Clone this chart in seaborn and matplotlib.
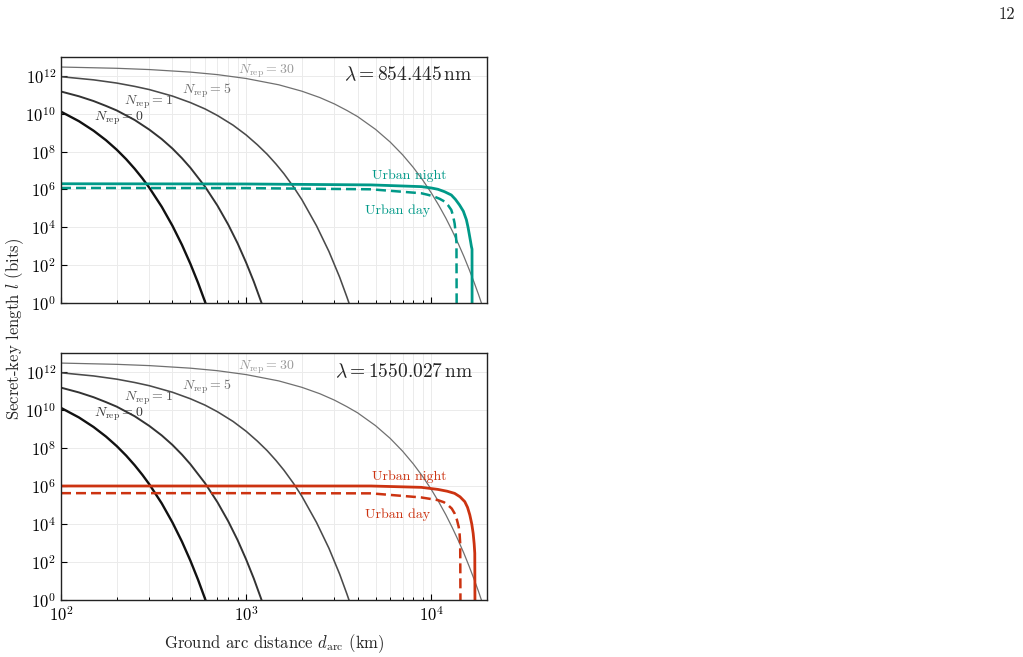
import numpy as np
import pandas as pd
import matplotlib
matplotlib.use('Agg')
import matplotlib.pyplot as plt
import matplotlib.ticker as mticker
import seaborn as sns

# ---- data ----
# repeater chains (same in both panels), distance in km, secret-key length in bits
d_rep0 = [100, 125, 150, 175, 200, 225, 250, 275, 300, 350, 400, 450, 500, 550, 600, 625]
l_rep0 = [1.29e10, 4.05e9, 1.27e9, 4.0e8, 1.26e8, 3.96e7, 1.24e7, 3.9e6, 1.23e6, 1.22e5, 1.2e4,
          1.19e3, 117, 11.6, 1.15, 0.36]

d_rep1 = [100, 125, 150, 175, 200, 250, 300, 350, 400, 450, 500, 600, 700, 800, 900, 1000, 1100, 1200, 1250]
l_rep1 = [1.5e11, 8.4e10, 4.7e10, 2.6e10, 1.5e10, 4.7e9, 1.45e9, 4.6e8, 1.45e8, 4.5e7, 1.4e7, 1.4e6,
          1.4e5, 1.4e4, 1.4e3, 136, 13.5, 1.3, 0.42]

d_rep5 = [100, 150, 200, 250, 300, 400, 500, 600, 700, 850, 1000, 1150, 1300, 1450, 1600, 1800, 2000,
          2400, 2800, 3200, 3500, 3700]
l_rep5 = [9.1e11, 6.2e11, 4.2e11, 2.8e11, 1.9e11, 8.6e10, 3.9e10, 1.8e10, 8.1e9, 2.5e9, 7.6e8, 2.3e8,
          7.2e7, 2.2e7, 6.8e6, 1.4e6, 2.9e5, 1.2e4, 530, 23, 2.1, 0.44]

d_rep30 = [100, 200, 300, 500, 700, 1000, 1500, 2000, 2500, 3000, 3500, 4000, 5000, 6000, 7000, 8000, 9000,
           10000, 11000, 12000, 13000, 14000, 15000, 16000, 17000, 18000, 19000, 20000]
l_rep30 = [2.95e12, 2.53e12, 2.17e12, 1.59e12, 1.17e12, 7.3e11, 3.4e11, 1.56e11, 7.2e10, 3.3e10, 1.5e10,
           7.1e9, 1.5e9, 3.2e8, 6.8e7, 1.45e7, 3.1e6, 6.6e5, 1.4e5, 3.0e4, 6.3e3, 1.35e3, 290, 61, 13, 2.8,
           0.59, 0.125]

rep_labels = [r'$N_{\rm rep} = 0$', r'$N_{\rm rep} = 1$', r'$N_{\rm rep} = 5$', r'$N_{\rm rep} = 30$']

# satellite links, 854.445 nm
d_night_854 = [100, 1000, 4730, 8830, 10000, 10870, 11800, 12830, 13500, 14220, 14900, 15480, 15800,
               16130, 16300, 16480, 16600, 16630]
l_night_854 = [2.0e6, 1.95e6, 1.74e6, 1.41e6, 1.2e6, 1.02e6, 7.6e5, 5.1e5, 3.0e5, 1.5e5, 7.1e4, 2.5e4,
               1.0e4, 3.2e3, 1.8e3, 950, 700, 1e-3]
d_day_854 = [100, 1000, 4730, 8830, 9600, 10380, 11100, 11800, 12300, 12830, 13100, 13370, 13550, 13680,
             13740]
l_day_854 = [1.2e6, 1.18e6, 1.02e6, 6.3e5, 5.2e5, 4.2e5, 3.2e5, 2.3e5, 1.5e5, 8.3e4, 4.2e4, 1.6e4, 5.0e3,
             1.5e3, 1e-3]

# satellite links, 1550.027 nm
d_night_1550 = [100, 1000, 4730, 8830, 10870, 12200, 13370, 14300, 15170, 15700, 16150, 16550, 16840,
                17050, 17180, 17260]
l_night_1550 = [1.0e6, 1.0e6, 1.0e6, 8.5e5, 6.6e5, 5.3e5, 4.1e5, 2.7e5, 1.5e5, 7.5e4, 3.0e4, 1.0e4,
                3.2e3, 900, 290, 1e-3]
d_day_1550 = [100, 1000, 4730, 8830, 10870, 11700, 12300, 12900, 13370, 13750, 14060, 14230, 14330, 14420]
l_day_1550 = [4.2e5, 4.2e5, 4.1e5, 2.5e5, 1.8e5, 1.4e5, 1.0e5, 6.5e4, 3.6e4, 1.7e4, 7.2e3, 2.8e3, 950, 1e-3]

wavelengths = [r'$\lambda = 854.445\,\mathrm{nm}$', r'$\lambda = 1550.027\,\mathrm{nm}$']

# ---- style ----
sns.set_theme(style='ticks')
plt.rcParams['font.family'] = 'serif'
plt.rcParams['font.serif'] = ['cmr10', 'DejaVu Serif']
plt.rcParams['mathtext.fontset'] = 'cm'
plt.rcParams['axes.formatter.use_mathtext'] = True
plt.rcParams['axes.unicode_minus'] = False

rep_colors = ['#111111', '#333333', '#4a4a4a', '#707070']
rep_lw = [1.7, 1.4, 1.15, 0.9]
rep_text_colors = ['#3a3a3a', '#555555', '#707070', '#9a9a9a']
rep_text_pos = [(206, 5.6e9), (296, 3.9e10), (611, 1.6e11), (1290, 1.8e12)]

fig = plt.figure(figsize=(10.23, 6.57), dpi=100)
ax_top = fig.add_axes([61 / 1023, 1 - 303 / 657, 426 / 1023, 246 / 657])
ax_bot = fig.add_axes([61 / 1023, 1 - 600 / 657, 426 / 1023, 247 / 657])

panels = [
    (ax_top, '#009988', d_night_854, l_night_854, d_day_854, l_day_854, wavelengths[0], 5.1e6, 7.2e4),
    (ax_bot, '#CC3311', d_night_1550, l_night_1550, d_day_1550, l_day_1550, wavelengths[1], 3.0e6, 3.0e4),
]

rep_data = [(d_rep0, l_rep0), (d_rep1, l_rep1), (d_rep5, l_rep5), (d_rep30, l_rep30)]

for ax, col, dn, ln, dd, ld, lam, y_night, y_day in panels:
    ax.set_xscale('log')
    ax.set_yscale('log')

    # repeater curves
    for i, (d, l) in enumerate(rep_data):
        sns.lineplot(x=d, y=l, ax=ax, color=rep_colors[i], lw=rep_lw[i])
        ax.text(rep_text_pos[i][0], rep_text_pos[i][1], rep_labels[i], color=rep_text_colors[i],
                fontsize=10, ha='center', va='center')

    # satellite curves
    sns.lineplot(x=dn, y=ln, ax=ax, color=col, lw=2.0)
    sns.lineplot(x=dd, y=ld, ax=ax, color=col, lw=1.8, linestyle=(0, (4, 2)))
    ax.text(7600, y_night, 'Urban night', color=col, fontsize=10, ha='center', va='center')
    ax.text(6550, y_day, 'Urban day', color=col, fontsize=10, ha='center', va='center')

    ax.text(0.967, 0.925, lam, transform=ax.transAxes, ha='right', va='center', fontsize=14)

    ax.set_xlim(100, 2e4)
    ax.set_ylim(1, 1e13)
    ax.yaxis.set_major_locator(mticker.FixedLocator([1e0, 1e2, 1e4, 1e6, 1e8, 1e10, 1e12]))
    ax.yaxis.set_minor_locator(mticker.NullLocator())
    ax.xaxis.set_major_locator(mticker.LogLocator(base=10, numticks=10))
    ax.xaxis.set_minor_locator(mticker.LogLocator(base=10, subs=np.arange(2, 10), numticks=20))
    ax.grid(True, which='both', axis='x', color='#ebebeb', lw=0.7)
    ax.grid(True, which='major', axis='y', color='#ebebeb', lw=0.7)
    ax.set_axisbelow(True)
    ax.tick_params(which='both', direction='in', labelsize=12, colors='black')
    ax.tick_params(which='major', length=4, width=0.8)
    ax.tick_params(which='minor', length=2.5, width=0.7)
    for s in ax.spines.values():
        s.set_color('#222222')
        s.set_linewidth(1.0)
    ax.set_xlabel('')
    ax.set_ylabel('')

ax_top.tick_params(labelbottom=False)
ax_bot.set_xlabel(r'Ground arc distance $d_{\rm arc}$ (km)', fontsize=12, labelpad=6)
fig.text(15 / 1023, 0.5, r'Secret-key length $l$ (bits)', rotation=90, ha='center', va='center', fontsize=12)
fig.text(1007 / 1023, 1 - 14 / 657, '12', ha='center', va='center', fontsize=12)

fig.savefig('out.png', dpi=100)
